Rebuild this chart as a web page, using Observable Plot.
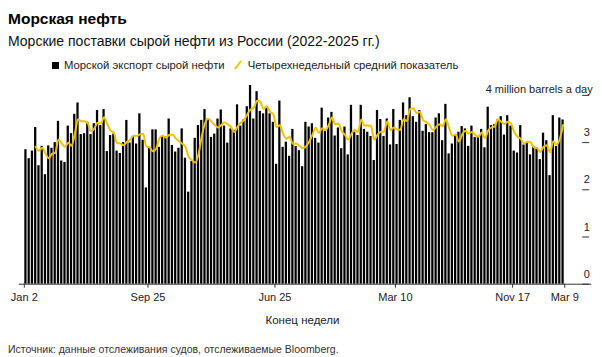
<!DOCTYPE html>
<html><head><meta charset="utf-8">
<script src="https://cdn.jsdelivr.net/npm/d3@7"></script>
<script src="https://cdn.jsdelivr.net/npm/@observablehq/plot@0.6"></script>
<style>
body{margin:0;background:#fff;font-family:"Liberation Sans",Arial,sans-serif;}
#wrap{position:relative;width:602px;height:357px;overflow:hidden;background:#fff;}
.t{position:absolute;white-space:nowrap;}
#title{left:8px;top:10px;font-size:15.5px;line-height:18px;font-weight:bold;color:#000;}
#sub{left:8px;top:33px;font-size:14px;line-height:17px;color:#111;}
#legend{left:52px;top:58px;font-size:11.3px;line-height:14px;color:#222;display:flex;align-items:center;}
#legend .sq{display:inline-block;width:7px;height:7px;background:#000;margin-right:5px;}
#legend svg{margin:0 6px 0 9px;}
#chart{position:absolute;left:0;top:0;}
#src{left:8px;top:343px;font-size:10.5px;line-height:12px;color:#333;}
</style></head><body>
<div id="wrap">
 <div id="chart"></div>
 <div class="t" id="title">Морская нефть</div>
 <div class="t" id="sub">Морские поставки сырой нефти из России (2022-2025 гг.)</div>
 <div class="t" id="legend"><span class="sq"></span><span>Морской экспорт сырой нефти</span><svg width="8" height="10"><line x1="1" y1="9" x2="7" y2="1" stroke="#f2c100" stroke-width="2"/></svg><span>Четырехнедельный средний показатель</span></div>
 <div class="t" id="src">Источник: данные отслеживания судов, отслеживаемые Bloomberg.</div>
</div>
<script>
// Weekly seaborne crude exports, million barrels a day (166 weeks, first week starting 2022-01-02)
const firstWeekStart = "2022-01-02";
const weeklyExports = [
2.85,2.66,2.82,3.32,2.51,2.92,2.32,2.93,2.88,3.00,
3.45,2.61,2.58,3.35,3.19,3.60,3.84,3.17,3.19,3.43,
3.17,3.40,3.68,3.36,3.70,2.81,3.15,3.18,2.82,2.77,
3.00,3.47,2.99,3.13,2.97,3.61,3.05,2.04,2.90,3.27,
3.27,2.90,3.13,3.12,3.50,2.94,2.80,2.88,3.29,2.67,
1.95,2.60,3.09,3.36,3.47,3.70,3.50,3.11,3.18,3.50,
3.69,3.35,2.99,3.29,3.26,3.80,3.35,3.48,3.76,4.21,
3.50,4.08,3.66,3.61,3.73,3.61,3.43,2.54,3.88,2.90,
3.01,2.71,3.28,2.92,2.83,2.49,3.43,3.33,3.40,3.09,
2.99,3.73,3.24,3.52,3.64,3.14,3.31,2.87,3.33,2.74,
3.79,3.22,3.15,3.79,3.28,3.22,3.13,2.62,3.68,3.49,
3.13,3.50,2.95,3.70,2.96,3.47,3.84,3.57,3.95,3.55,
3.43,3.68,3.24,3.38,3.21,3.21,3.52,3.61,3.04,3.81,
2.76,2.97,3.15,3.22,3.34,3.29,2.92,3.35,3.11,3.11,
3.28,2.89,3.75,3.36,3.38,3.48,3.55,3.16,3.57,3.35,
2.82,2.78,3.36,2.95,2.99,2.74,2.92,2.89,2.64,3.20,
3.04,2.30,3.57,2.92,3.52,3.48
];
const xTickDates = ["2022-01-02","2022-09-25","2023-06-25","2024-03-10","2024-11-17","2025-03-09"];
const xTickLabels = ["Jan 2","Sep 25","Jun 25","Mar 10","Nov 17","Mar 9"];
const yTicks = [0,1,2,3,4];
const yTickLabels = ["0","1","2","3"];
const unitLabel = "4 million barrels a day";
const xTitle = "Конец недели";

const t0 = new Date(firstWeekStart + "T00:00:00Z");
const data = weeklyExports.map((v, i) => {
  const start = d3.utcDay.offset(t0, 7 * i);
  const end = d3.utcDay.offset(start, 7);
  return {start, end, mid: new Date((+start + +end) / 2), value: v};
});
const tickDates = xTickDates.map(s => new Date(s + "T00:00:00Z"));
const labelOf = new Map(tickDates.map((d, i) => [+d, xTickLabels[i]]));

const chart = Plot.plot({
  width: 602,
  height: 357,
  marginTop: 94.9,
  marginBottom: 73.3,
  marginLeft: 23.8,
  marginRight: 37.8,
  style: {fontFamily: "'Liberation Sans', Arial, sans-serif", fontSize: "11px", color: "#222", background: "transparent"},
  x: {type: "utc", domain: [tickDates[0], tickDates[tickDates.length - 1]]},
  y: {domain: [0, 4]},
  marks: [
    Plot.rectY(data, {x1: "start", x2: "end", y: "value", fill: "#000", insetLeft: 0.5, insetRight: 0.5}),
    Plot.ruleY([0], {stroke: "#333", strokeWidth: 1, insetLeft: -5, insetRight: -27}),
    Plot.lineY(data, Plot.windowY({k: 4, anchor: "end", strict: true}, {x: "mid", y: "value", stroke: "#f2c100", strokeWidth: 2, curve: "monotone-x"})),
    Plot.axisX(tickDates, {anchor: "bottom", tickSize: 4, tickPadding: 5, tickFormat: d => labelOf.get(+d), label: null, fontSize: 11, stroke: "#333"}),
    Plot.axisY(yTicks, {anchor: "right", tickSize: 7, dx: 17, tickFormat: () => "", label: null, stroke: "#333"}),
    Plot.text(yTickLabels, {y: d => +d, text: d => d, frameAnchor: "right", dx: 22, dy: -10, textAnchor: "middle", fontSize: 11, fill: "#222"}),
    Plot.text([unitLabel], {text: d => d, frameAnchor: "top-right", dx: 28, dy: -10, textAnchor: "end", fontSize: 11, fill: "#222"}),
    Plot.text([xTitle], {text: d => d, frameAnchor: "bottom", dx: 8, dy: 40, fontSize: 11.5, fill: "#222"})
  ]
});
document.getElementById("chart").appendChild(chart);
</script>
</body></html>
